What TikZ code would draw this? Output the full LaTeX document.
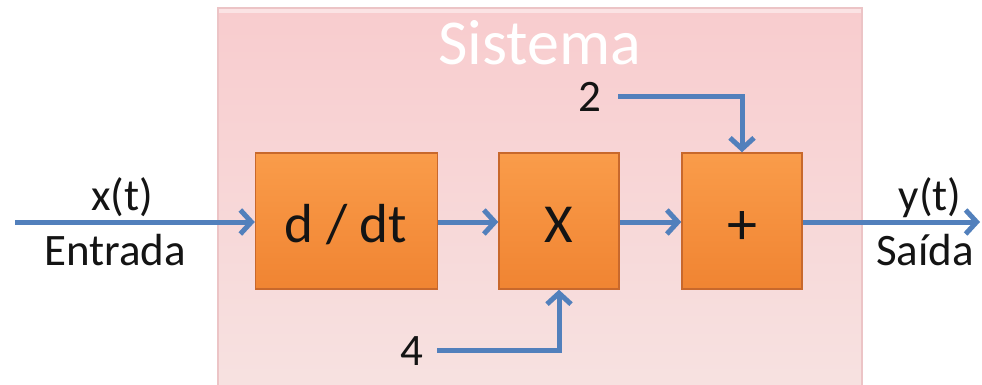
\documentclass[tikz,border=0pt]{standalone}
\usepackage{fontspec}
\setmainfont{Carlito}
\usetikzlibrary{arrows.meta}
\definecolor{pinktop}{RGB}{248,204,206}
\definecolor{pinkbot}{RGB}{247,226,225}
\definecolor{pinkedge}{RGB}{236,196,198}
\definecolor{orangetop}{RGB}{250,156,74}
\definecolor{orangebot}{RGB}{240,132,50}
\definecolor{orangeedge}{RGB}{200,104,44}
\definecolor{arrowblue}{RGB}{82,128,188}
\definecolor{textblack}{RGB}{20,20,20}
\tikzset{
  blockbox/.style={draw=orangeedge, line width=1.5pt, top color=orangetop, bottom color=orangebot,
    minimum height=136pt, inner sep=0pt},
  blocktext/.style={font=\fontsize{55}{55}\selectfont, text=textblack, anchor=base, inner sep=0pt},
  conn/.style={draw=arrowblue, line width=5pt, -{Straight Barb[length=11pt,width=24pt]}},
  lbl/.style={font=\fontsize{45}{45}\selectfont, text=textblack, inner sep=0pt, anchor=base},
}
\begin{document}
\begin{tikzpicture}[x=1pt,y=-1pt]
\useasboundingbox (0,0) rectangle (982,385);
% system box
\fill[top color=pinktop, bottom color=pinkbot] (218,8) rectangle (862,395);
\fill[white, opacity=0.45] (218,8) rectangle (862,13);
\draw[pinkedge, line width=1.2pt] (218,395) -- (218,8) -- (862,8) -- (862,395);
\node[font=\fontsize{64}{64}\selectfont, text=white, anchor=base, inner sep=0pt, text depth=0pt] (sys) at (540,65) {Sistema};
% blocks
\node[blockbox, minimum width=182pt] (ddt) at (346.5,221) {};
\node[blocktext] (ddtt) at (346,242) {d / dt};
\node[blockbox, minimum width=120pt] (mul) at (559,221) {};
\node[blocktext] (mult) at (559,242) {X};
\node[blockbox, minimum width=120pt] (add) at (742,221) {};
\node[blocktext, font=\fontsize{60}{60}\selectfont] (addt) at (742,244) {+};
% labels
\node[lbl] (xt) at (122,210) {x(t)};
\node[lbl] (ent) at (115,265) {Entrada};
\node[lbl] (yt) at (930,210) {y(t)};
\node[lbl] (sai) at (925,265) {Saída};
\node[lbl] (two) at (590,112) {2};
\node[lbl] (four) at (412,365) {4};
% connectors
\coordinate (inS) at (15,222);
\coordinate (outE) at (980,222);
\coordinate (twoE) at (618,97);
\coordinate (fourE) at (437,350);
\draw[conn] (inS) -- (ddt.west |- inS);
\draw[conn] (ddt.east |- inS) -- (mul.west |- inS);
\draw[conn] (mul.east |- inS) -- (add.west |- inS);
\draw[conn] (add.east |- inS) -- (outE);
\draw[conn] (twoE) -| (add.north);
\draw[conn] (fourE) -| (mul.south);
\end{tikzpicture}
\end{document}
